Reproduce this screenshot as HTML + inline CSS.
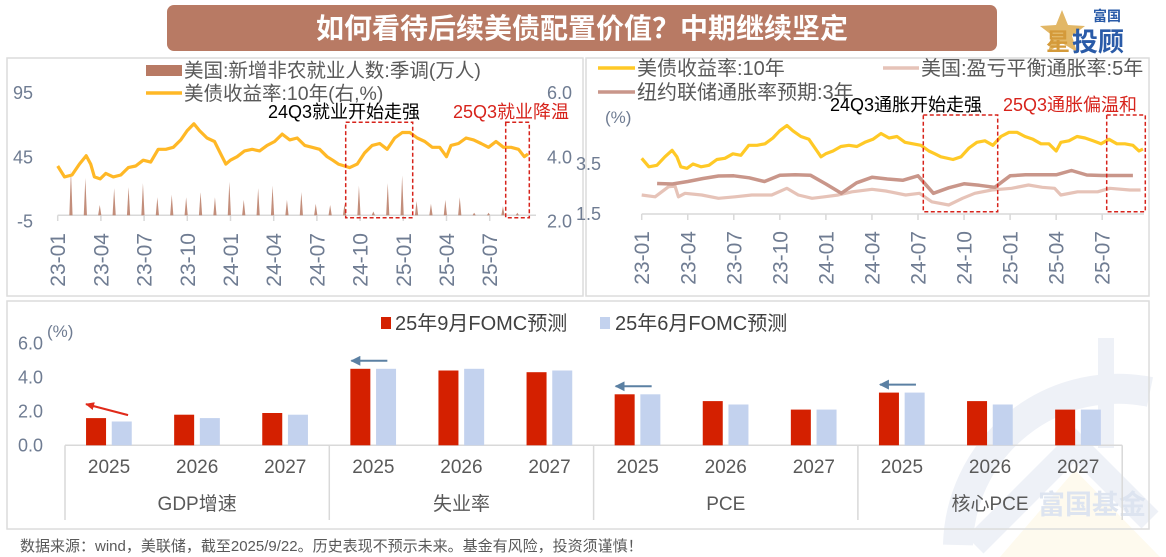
<!DOCTYPE html>
<html><head><meta charset="utf-8">
<style>
html,body{margin:0;padding:0;background:#fff;width:1166px;height:557px;overflow:hidden;}
svg{display:block;font-family:"Liberation Sans","Noto Sans CJK SC",sans-serif;}
</style></head>
<body>
<svg id="s" width="1166" height="557" viewBox="0 0 1166 557" xmlns="http://www.w3.org/2000/svg">
<defs>
  <marker id="ar" markerWidth="9" markerHeight="8" refX="8" refY="4" orient="auto" markerUnits="userSpaceOnUse"><path d="M0,0 L9,4 L0,8 Z" fill="#e02a1a"/></marker>
  <marker id="ab" markerWidth="10" markerHeight="10" refX="9" refY="5" orient="auto" markerUnits="userSpaceOnUse"><path d="M0,0 L10,5 L0,10 Z" fill="#5b80a3"/></marker>
  <clipPath id="frame"><rect x="0" y="0" width="1166" height="557"/></clipPath>
</defs>
<g id="wm" clip-path="url(#frame)">
  <polygon points="1000,557 1075,470 1160,557" fill="#fefaee"/>
  <path d="M 958 545 A 160 160 0 0 1 1150 392" fill="none" stroke="#eef1f7" stroke-width="30"/>
  <path d="M 975 545 L 1075 445 L 1150 520" fill="none" stroke="#eef1f7" stroke-width="24"/>
  <rect x="1098" y="338" width="16" height="110" fill="#eef1f7"/>
  <text x="1092" y="514" text-anchor="middle" font-size="27" font-weight="bold" fill="#dde4f0" font-family="'Noto Sans CJK SC',sans-serif">富国基金</text>
</g>
<g>
  <rect x="167" y="5" width="830" height="46" rx="7" fill="#b87a64"/>
  <text x="582" y="38" text-anchor="middle" font-size="28" font-weight="bold" fill="#fff" font-family="'Noto Sans CJK SC',sans-serif">如何看待后续美债配置价值？中期继续坚定</text>
</g>
<g>
  <polygon points="1062,10 1068,25 1085,26 1072,36 1077,52 1062,43 1048,52 1053,36 1040,26 1056,25" fill="#e2b766"/>
  <text x="1093" y="21" font-size="14" font-weight="bold" fill="#2a5ba8" font-family="'Noto Sans CJK SC',sans-serif">富国</text>
  <text x="1046" y="50" font-size="24" font-weight="bold" fill="#d49a3a" font-family="'Noto Sans CJK SC',sans-serif">星</text>
  <text x="1072" y="51" font-size="26" font-weight="bold" fill="#2a5ba8" font-family="'Noto Sans CJK SC',sans-serif">投顾</text>
</g>
<rect x="7" y="58" width="576" height="238" fill="none" stroke="#dcdcdc" stroke-width="1.5"/>
<rect x="586" y="58" width="563" height="238" fill="none" stroke="#dcdcdc" stroke-width="1.5"/>
<rect x="7" y="301" width="1142" height="228" fill="none" stroke="#dcdcdc" stroke-width="1.5"/>
<g id="L"></g><g id="R"></g><g id="B"></g>
<text x="20" y="551" font-size="15" fill="#595959">数据来源：wind，美联储，截至2025/9/22。历史表现不预示未来。基金有风险，投资须谨慎！</text>
</svg>
<script>
// ---- data ----
const tickLabels = ['23-01','23-04','23-07','23-10','24-01','24-04','24-07','24-10','25-01','25-04','25-07'];
const yieldMonths = [0,0.47,0.99,1.51,1.98,2.29,2.55,2.95,3.34,3.86,4.38,4.90,5.42,5.94,6.46,6.98,7.51,8.03,8.55,8.99,9.46,9.85,10.37,10.89,11.42,11.68,11.99,12.46,12.98,13.50,14.02,14.54,15.06,15.59,16.11,16.63,17.15,17.67,18.19,18.71,19.10,19.49,20.28,20.80,21.32,21.84,22.36,22.88,23.40,23.93,24.45,24.97,25.49,26.01,26.53,27.00,27.31,27.83,28.36,28.88,29.40,29.92,30.44,30.96,31.48,32.00,32.40,32.66];
const yieldVals = [3.73,3.39,3.45,3.79,4.05,3.79,3.39,3.33,3.50,3.39,3.45,3.68,3.73,3.91,3.85,4.25,4.25,4.31,4.54,4.83,5.04,4.83,4.60,4.49,4.02,3.79,3.91,4.02,4.20,4.25,4.20,4.37,4.49,4.72,4.54,4.60,4.37,4.31,4.25,4.02,3.91,3.79,3.68,3.79,4.14,4.37,4.43,4.25,4.60,4.77,4.77,4.60,4.49,4.31,4.31,4.02,4.37,4.43,4.60,4.54,4.43,4.31,4.49,4.31,4.31,4.25,4.02,4.10];
const nfpVals = [35,29,8,21,22,25,14,16,14,18,14,26,12,21,23,12,18,9,8,9,23,3,25,31,11,9,12,14,2,2,7,2];
const nyfVals = [2.72,2.70,2.80,2.92,3.02,3.03,2.95,2.80,3.05,3.07,3.05,2.70,2.33,2.75,2.97,2.90,2.85,3.03,2.33,2.55,2.71,2.65,2.57,3.03,3.07,3.07,3.07,3.24,3.06,3.04,3.04,3.04];
const beMonths = [0,0.87,1.74,2.17,2.39,2.82,3.91,5.0,6.08,7.17,8.47,9.45,10.2,11.1,11.9,12.8,13.7,15.0,15.9,17.2,18.1,18.9,20.0,20.9,21.7,22.8,24.1,25.2,26.1,26.9,27.3,28.4,29.7,30.5,31.8,32.5];
const beVals = [2.26,2.19,2.59,2.62,2.19,2.33,2.26,2.13,2.19,2.26,2.26,2.53,2.26,2.13,2.19,2.26,2.39,2.49,2.42,2.26,2.33,1.99,1.86,2.13,2.33,2.46,2.53,2.66,2.57,2.53,2.26,2.39,2.39,2.53,2.46,2.46];
const groups = ['GDP增速','失业率','PCE','核心PCE'];
const years = ['2025','2026','2027'];
const sepVals = [1.6,1.8,1.9,4.5,4.4,4.3,3.0,2.6,2.1,3.1,2.6,2.1];
const junVals = [1.4,1.6,1.8,4.5,4.5,4.4,3.0,2.4,2.1,3.1,2.4,2.1];
const leftTicks = ['95','45','-5'];
const leftTickVals = [95,45,-5];
const rightTickVals = [6.0,4.0,2.0];
const rTickVals = [3.5,1.5];
const bTickVals = [0,2,4,6];

const NS='http://www.w3.org/2000/svg';
function mk(parent,tag,attrs,txt){const e=document.createElementNS(NS,tag);for(const k in attrs)e.setAttribute(k,attrs[k]);if(txt!==undefined)e.textContent=txt;parent.appendChild(e);return e;}
const GRAY='#6f7c92', TXT='#595959';

// ---------- LEFT CHART ----------
const L=document.getElementById('L');
const lx=m=>57.7+m*14.4;
const lyL=v=>215.3-v*1.286;
const lyR=v=>157.3-(v-4)*32.2;
let e=mk(L,'line',{x1:57.7,y1:215.3,x2:536,y2:215.3,stroke:'#d9d9d9','stroke-width':1.5});

tickLabels.forEach((t,i)=>{const x=lx(i*3);
  mk(L,'line',{x1:x,y1:215.3,x2:x,y2:221,stroke:'#d9d9d9','stroke-width':1.5});
  const tt=mk(L,'text',{x:x,y:233,transform:`rotate(-90 ${x} 233)`,'text-anchor':'end',dy:'0.36em','font-size':21,fill:GRAY},t);
  
  
});
leftTickVals.forEach((v,i)=>{const t=mk(L,'text',{x:33,y:lyL(v)+6,'text-anchor':'end','font-size':18,fill:GRAY},leftTicks[i]);
  });
rightTickVals.forEach(v=>{const t=mk(L,'text',{x:547,y:lyR(v)+6,'font-size':18,fill:GRAY},v.toFixed(1));
  });
nfpVals.forEach((v,k)=>{const x=lx(k+0.92),y0=lyL(0),y1=lyL(v);
  const p=mk(L,'polygon',{points:`${x-1.6},${y0} ${x},${y1} ${x+1.6},${y0}`,fill:'#b87a64',opacity:0.85});
  });
let pts=yieldMonths.map((m,i)=>lx(m).toFixed(1)+','+lyR(yieldVals[i]).toFixed(1)).join(' ');
e=mk(L,'polyline',{points:pts,fill:'none',stroke:'#ffb826','stroke-width':3.2,'stroke-linejoin':'round'});

e=mk(L,'rect',{x:146,y:65,width:36,height:11,fill:'#b87a64'});
e=mk(L,'text',{x:184,y:77,'font-size':19.5,fill:TXT},'美国:新增非农就业人数:季调(万人)');
e=mk(L,'line',{x1:146,y1:93,x2:182,y2:93,stroke:'#ffb826','stroke-width':3.5});
e=mk(L,'text',{x:184,y:100,'font-size':19.5,fill:TXT},'美债收益率:10年(右,%)');
e=mk(L,'text',{x:268,y:118,'font-size':18,fill:'#000'},'24Q3就业开始走强');
e=mk(L,'text',{x:453,y:118,'font-size':18,fill:'#d7231b'},'25Q3就业降温');
e=mk(L,'rect',{x:345.7,y:122.3,width:67,height:95.4,fill:'none',stroke:'#d7231b','stroke-width':1.5,'stroke-dasharray':'4,2.5'});
e=mk(L,'rect',{x:505.7,y:122.3,width:23.6,height:95.4,fill:'none',stroke:'#d7231b','stroke-width':1.5,'stroke-dasharray':'4,2.5'});

// ---------- RIGHT CHART ----------
const R=document.getElementById('R');
const rx=m=>641.7+m*15.35;
const ry=v=>214-(v-1.5)*25;
e=mk(R,'line',{x1:641.7,y1:214,x2:1144,y2:214,stroke:'#d9d9d9','stroke-width':1.5});

tickLabels.forEach((t,i)=>{const x=rx(i*3);
  mk(R,'line',{x1:x,y1:214,x2:x,y2:220,stroke:'#d9d9d9','stroke-width':1.5});
  const tt=mk(R,'text',{x:x,y:231,transform:`rotate(-90 ${x} 231)`,'text-anchor':'end',dy:'0.36em','font-size':21,fill:GRAY},t);
  
  
});
rTickVals.forEach(v=>{const t=mk(R,'text',{x:601,y:ry(v)+6,'text-anchor':'end','font-size':18,fill:GRAY},v.toFixed(1));
  });
e=mk(R,'text',{x:605,y:123,'font-size':17,fill:GRAY},'(%)');
pts=beMonths.map((m,i)=>rx(m).toFixed(1)+','+ry(beVals[i]).toFixed(1)).join(' ');
e=mk(R,'polyline',{points:pts,fill:'none',stroke:'#e6c3b8','stroke-width':3.2,'stroke-linejoin':'round'});

pts=nyfVals.map((v,i)=>rx(i+1).toFixed(1)+','+ry(v).toFixed(1)).join(' ');
e=mk(R,'polyline',{points:pts,fill:'none',stroke:'#c9968a','stroke-width':3.5,'stroke-linejoin':'round'});

pts=yieldMonths.map((m,i)=>rx(m).toFixed(1)+','+ry(yieldVals[i]).toFixed(1)).join(' ');
e=mk(R,'polyline',{points:pts,fill:'none',stroke:'#ffc926','stroke-width':3.2,'stroke-linejoin':'round'});

e=mk(R,'line',{x1:598,y1:68,x2:635,y2:68,stroke:'#ffc926','stroke-width':3.5});
e=mk(R,'text',{x:637,y:75,'font-size':20,fill:TXT},'美债收益率:10年');
e=mk(R,'line',{x1:598,y1:92,x2:635,y2:92,stroke:'#c9968a','stroke-width':3.5});
e=mk(R,'text',{x:637,y:99,'font-size':20,fill:TXT},'纽约联储通胀率预期:3年');
e=mk(R,'line',{x1:883,y1:68,x2:919,y2:68,stroke:'#e6c3b8','stroke-width':3.5});
e=mk(R,'text',{x:921,y:75,'font-size':20,fill:TXT},'美国:盈亏平衡通胀率:5年');
e=mk(R,'text',{x:830,y:111,'font-size':18,fill:'#000'},'24Q3通胀开始走强');
e=mk(R,'text',{x:1003,y:111,'font-size':18,fill:'#d7231b'},'25Q3通胀偏温和');
e=mk(R,'rect',{x:923.3,y:115,width:74.4,height:96.7,fill:'none',stroke:'#d7231b','stroke-width':1.5,'stroke-dasharray':'4,2.5'});
e=mk(R,'rect',{x:1106.7,y:115,width:38.6,height:96.7,fill:'none',stroke:'#d7231b','stroke-width':1.5,'stroke-dasharray':'4,2.5'});

// ---------- BOTTOM CHART ----------
const B=document.getElementById('B');
const X0=65, CW=88.1;
const by=v=>445.3-17*v;
bTickVals.forEach(v=>{const t=mk(B,'text',{x:43,y:by(v)+6,'text-anchor':'end','font-size':18,fill:GRAY},v.toFixed(1));
  });
e=mk(B,'text',{x:47,y:337,'font-size':17,fill:GRAY},'(%)');
e=mk(B,'line',{x1:X0,y1:445.3,x2:X0+12*CW,y2:445.3,stroke:'#d9d9d9','stroke-width':1.5});

for(let g=0;g<=groups.length;g++){const x=X0+g*3*CW;mk(B,'line',{x1:x,y1:445.3,x2:x,y2:520,stroke:'#d9d9d9','stroke-width':1.5});}
groups.forEach((gname,g)=>{const t=mk(B,'text',{x:X0+(g*3+1.5)*CW,y:510,'text-anchor':'middle','font-size':19,fill:TXT},gname);
  });
sepVals.forEach((v,i)=>{const cx=X0+(i+0.5)*CW;
  const yl=mk(B,'text',{x:cx,y:473,'text-anchor':'middle','font-size':19,fill:TXT},years[i%3]);
  
  const r=mk(B,'rect',{x:cx-23,y:by(v),width:20,height:445.3-by(v),fill:'#d42000'});
  
  const b=mk(B,'rect',{x:cx+2.7,y:by(junVals[i]),width:20,height:445.3-by(junVals[i]),fill:'#c3d2ee'});
  
});
{const cx=X0+0.5*CW, t=by(sepVals[0]);
 e=mk(B,'line',{x1:cx+19,y1:t-3,x2:cx-23,y2:t-14,stroke:'#e02a1a','stroke-width':2,'marker-end':'url(#ar)'});
 }
[3,6,9].forEach(i=>{const cx=X0+(i+0.5)*CW, t=by(Math.max(sepVals[i],junVals[i]));
 const a=mk(B,'line',{x1:cx+14,y1:t-8,x2:cx-22,y2:t-8,stroke:'#5b80a3','stroke-width':2,'marker-end':'url(#ab)'});
 });
e=mk(B,'rect',{x:381,y:317,width:10,height:12,fill:'#d42000'});
e=mk(B,'text',{x:395,y:330,'font-size':20,fill:'#404040'},'25年9月FOMC预测');
e=mk(B,'rect',{x:600,y:317,width:10,height:12,fill:'#c3d2ee'});
e=mk(B,'text',{x:615,y:330,'font-size':20,fill:'#404040'},'25年6月FOMC预测');
</script>
</body></html>
